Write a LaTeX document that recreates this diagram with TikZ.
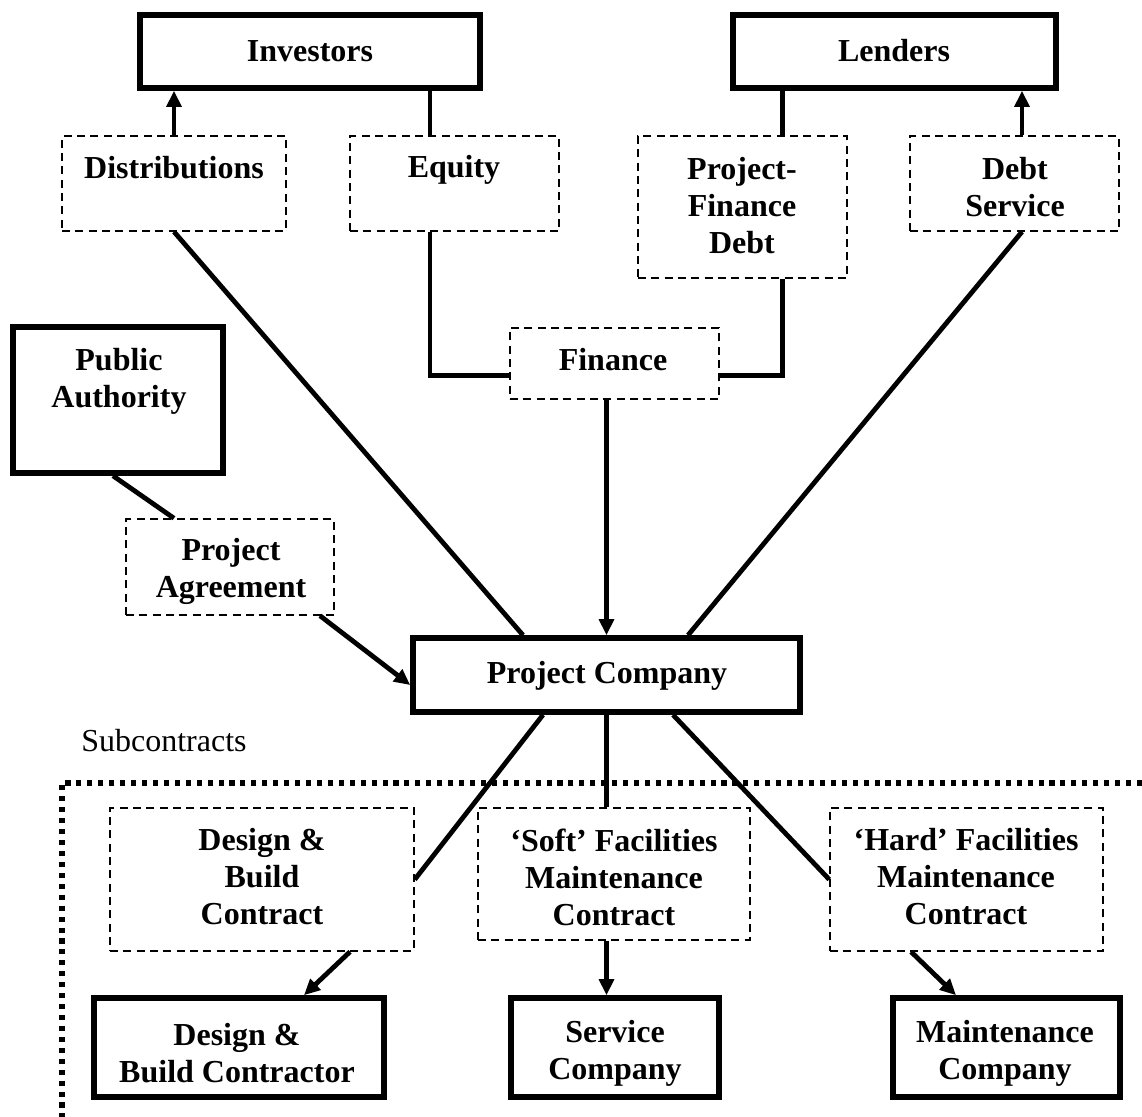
\documentclass[tikz,border=0pt]{standalone}
\usepackage{fontspec}
\setmainfont{Liberation Serif}
\usetikzlibrary{arrows.meta,calc,fit}
\begin{document}
\begin{tikzpicture}[x=0.75pt,y=-0.75pt,
  every node/.style={font=\fontsize{24}{27.75}\selectfont\bfseries, align=center, inner sep=0pt},
  partybox/.style={draw, line width=4.2pt, fit={#1}, inner sep=0pt},
  flowbox/.style={draw, line width=1.1pt, dash pattern=on 6pt off 4pt, fit={#1}, inner sep=0pt},
  conn/.style={line width=3.6pt},
  arr/.style={line width=3.6pt, -{Triangle[length=12pt,width=11pt]}},
  frameline/.style={line width=3.8pt, dash pattern=on 3.8pt off 4.4pt}]
% canvas
\useasboundingbox (0,0) rectangle (1142,1117);

% parties (solid boxes)
\node[partybox={(140,15)(480,88)}] (inv) {};
\node[partybox={(733,15)(1056,88)}] (len) {};
\node[partybox={(13,327)(223,473)}] (auth) {};
\node[partybox={(413,638)(800,712)}] (pc) {};
\node[partybox={(94,998)(384,1097)}] (dbcor) {};
\node[partybox={(511,998)(719,1097)}] (svc) {};
\node[partybox={(893,998)(1120,1097)}] (mnt) {};

% flows and contracts (dashed boxes)
\node[flowbox={(62,136)(286,231)}] (dist) {};
\node[flowbox={(350,136)(559,231)}] (eq) {};
\node[flowbox={(638,136)(847,278)}] (pfd) {};
\node[flowbox={(910,136)(1119,231)}] (ds) {};
\node[flowbox={(510,328)(719,399)}] (fin) {};
\node[flowbox={(126,519)(334,615)}] (pa) {};
\node[flowbox={(110,808)(414,951)}] (dbc) {};
\node[flowbox={(478,808)(750,940)}] (soft) {};
\node[flowbox={(830,808)(1103,951)}] (hard) {};

% labels
\node (invT) at (310,51) {Investors};
\node (lenT) at (894,51) {Lenders};
\node (distT) at (174,168) {Distributions};
\node (eqT) at (454,170) {Equity};
\node (pfdT) at (742,206) {Project-\\Finance\\Debt};
\node (dsT) at (1015,187) {Debt\\Service};
\node (finT) at (613,360) {Finance};
\node (authT) at (119,381) {Public\\Authority};
\node (paT) at (231,571) {Project\\Agreement};
\node (pcT) at (607,676) {Project Company};
\node[font=\fontsize{24}{27.75}\selectfont] (subT) at (164,741) {Subcontracts};
\node (dbcT) at (262,877) {Design \&\\Build\\Contract};
\node (softT) at (614,877) {‘Soft’ Facilities\\Maintenance\\Contract};
\node (hardT) at (966,877) {‘Hard’ Facilities\\Maintenance\\Contract};
\node (dbcorT) at (237,1053) {Design \&\\Build Contractor};
\node (svcT) at (615,1053) {Service\\Company};
\node (mntT) at (1005,1053) {Maintenance\\Company};

% investors and lenders
\draw[arr] (dist.north) -- (dist.north |- inv.south);
\coordinate (eqTop) at ($(eq.north)+(-24.5,0)$);
\draw[conn] (eqTop) -- (eqTop |- inv.south);
\coordinate (pfdTop) at ($(pfd.north)+(40,0)$);
\draw[conn] (pfdTop) -- (pfdTop |- len.south);
\coordinate (dsTop) at ($(ds.north)+(7.5,0)$);
\draw[arr] (dsTop) -- (dsTop |- len.south);

% finance
\draw[conn] ($(eq.south)+(-24.5,0)$) |- ($(fin.west)+(0,12)$);
\draw[conn] ($(pfd.south)+(40,0)$) |- ($(fin.east)+(0,12)$);
\draw[arr] (fin.south -| pc.north) -- (pc.north);

% project company links
\draw[conn] (dist.south) -- ($(pc.north)+(-83.5,0)$);
\draw[conn] (dsTop |- ds.south) -- ($(pc.north)+(81.5,0)$);
\draw[conn] ($(auth.south)+(-5,0)$) -- ($(pa.north)+(-56,0)$);
\draw[arr] ($(pa.south)+(90,0)$) -- ($(pc.west)+(0,10)$);

% subcontracts
\draw[frameline] (1142,783) -| (62,1117);
\draw[conn] ($(pc.south)+(-63.5,0)$) -- (dbc.east);
\draw[conn] (pc.south) -- (pc.south |- soft.north);
\draw[conn] ($(pc.south)+(66.5,0)$) -- (hard.west);
\draw[arr] ($(dbc.south)+(88,0)$) -- ($(dbcor.north)+(65,0)$);
\draw[arr] (pc.south |- soft.south) -- (pc.south |- svc.north);
\draw[arr] ($(hard.south)+(-55.5,0)$) -- ($(mnt.north)+(-50.5,0)$);
\end{tikzpicture}
\end{document}
